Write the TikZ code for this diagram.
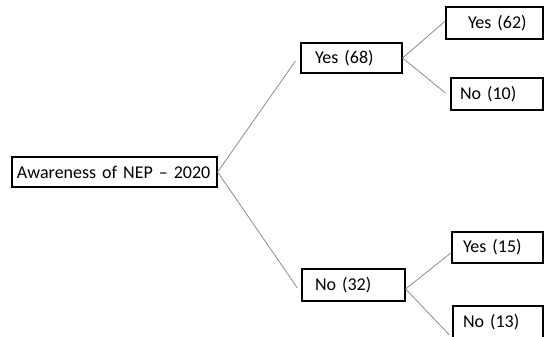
\documentclass[tikz,border=0pt]{standalone}
\usepackage{fontspec}
\setmainfont{Carlito}
\usetikzlibrary{calc}
\begin{document}
\begin{tikzpicture}[x=1pt,y=-1pt,
  bx/.style n args={3}{draw=black, line width=1.2pt, inner xsep=0pt, inner ysep=0pt,
    text width=#1, minimum height=#2, align=left,
    font=\fontsize{18}{20}\selectfont, execute at begin node={\hspace*{#3}}},
  link/.style={draw=black!45, line width=0.8pt}]
\useasboundingbox (0,0) rectangle (544,337);
\node[bx={205pt}{30pt}{5pt}] (root) at (114.5,172) {Awareness of NEP – 2020};
\node[bx={101pt}{30pt}{14pt}] (yes68) at (351.5,58) {Yes (68)};
\node[bx={103pt}{32pt}{13pt}] (no32) at (353.5,285) {No (32)};
\node[bx={97pt}{32pt}{22pt}] (yes62) at (494.5,23) {Yes (62)};
\node[bx={92pt}{32pt}{9pt}] (no10) at (497,94) {No (10)};
\node[bx={91pt}{31pt}{11pt}] (yes15) at (497.5,247.5) {Yes (15)};
\node[bx={90pt}{32pt}{10pt}] (no13) at (498,322) {No (13)};
\draw[link] (root.east) -- ($(yes68.west)+(-5,3)$);
\draw[link] (root.east) -- ($(no32.west)+(-4,3)$);
\draw[link] (yes68.east) -- ($(yes62.west)+(0,-2)$);
\draw[link] (yes68.east) -- ($(no10.west)+(-5,-1)$);
\draw[link] ($(no32.east)+(0,4)$) -- ($(yes15.west)+(0,5)$);
\draw[link] ($(no32.east)+(0,4)$) -- ($(no13.west)+(-3,13)$);
\end{tikzpicture}
\end{document}
